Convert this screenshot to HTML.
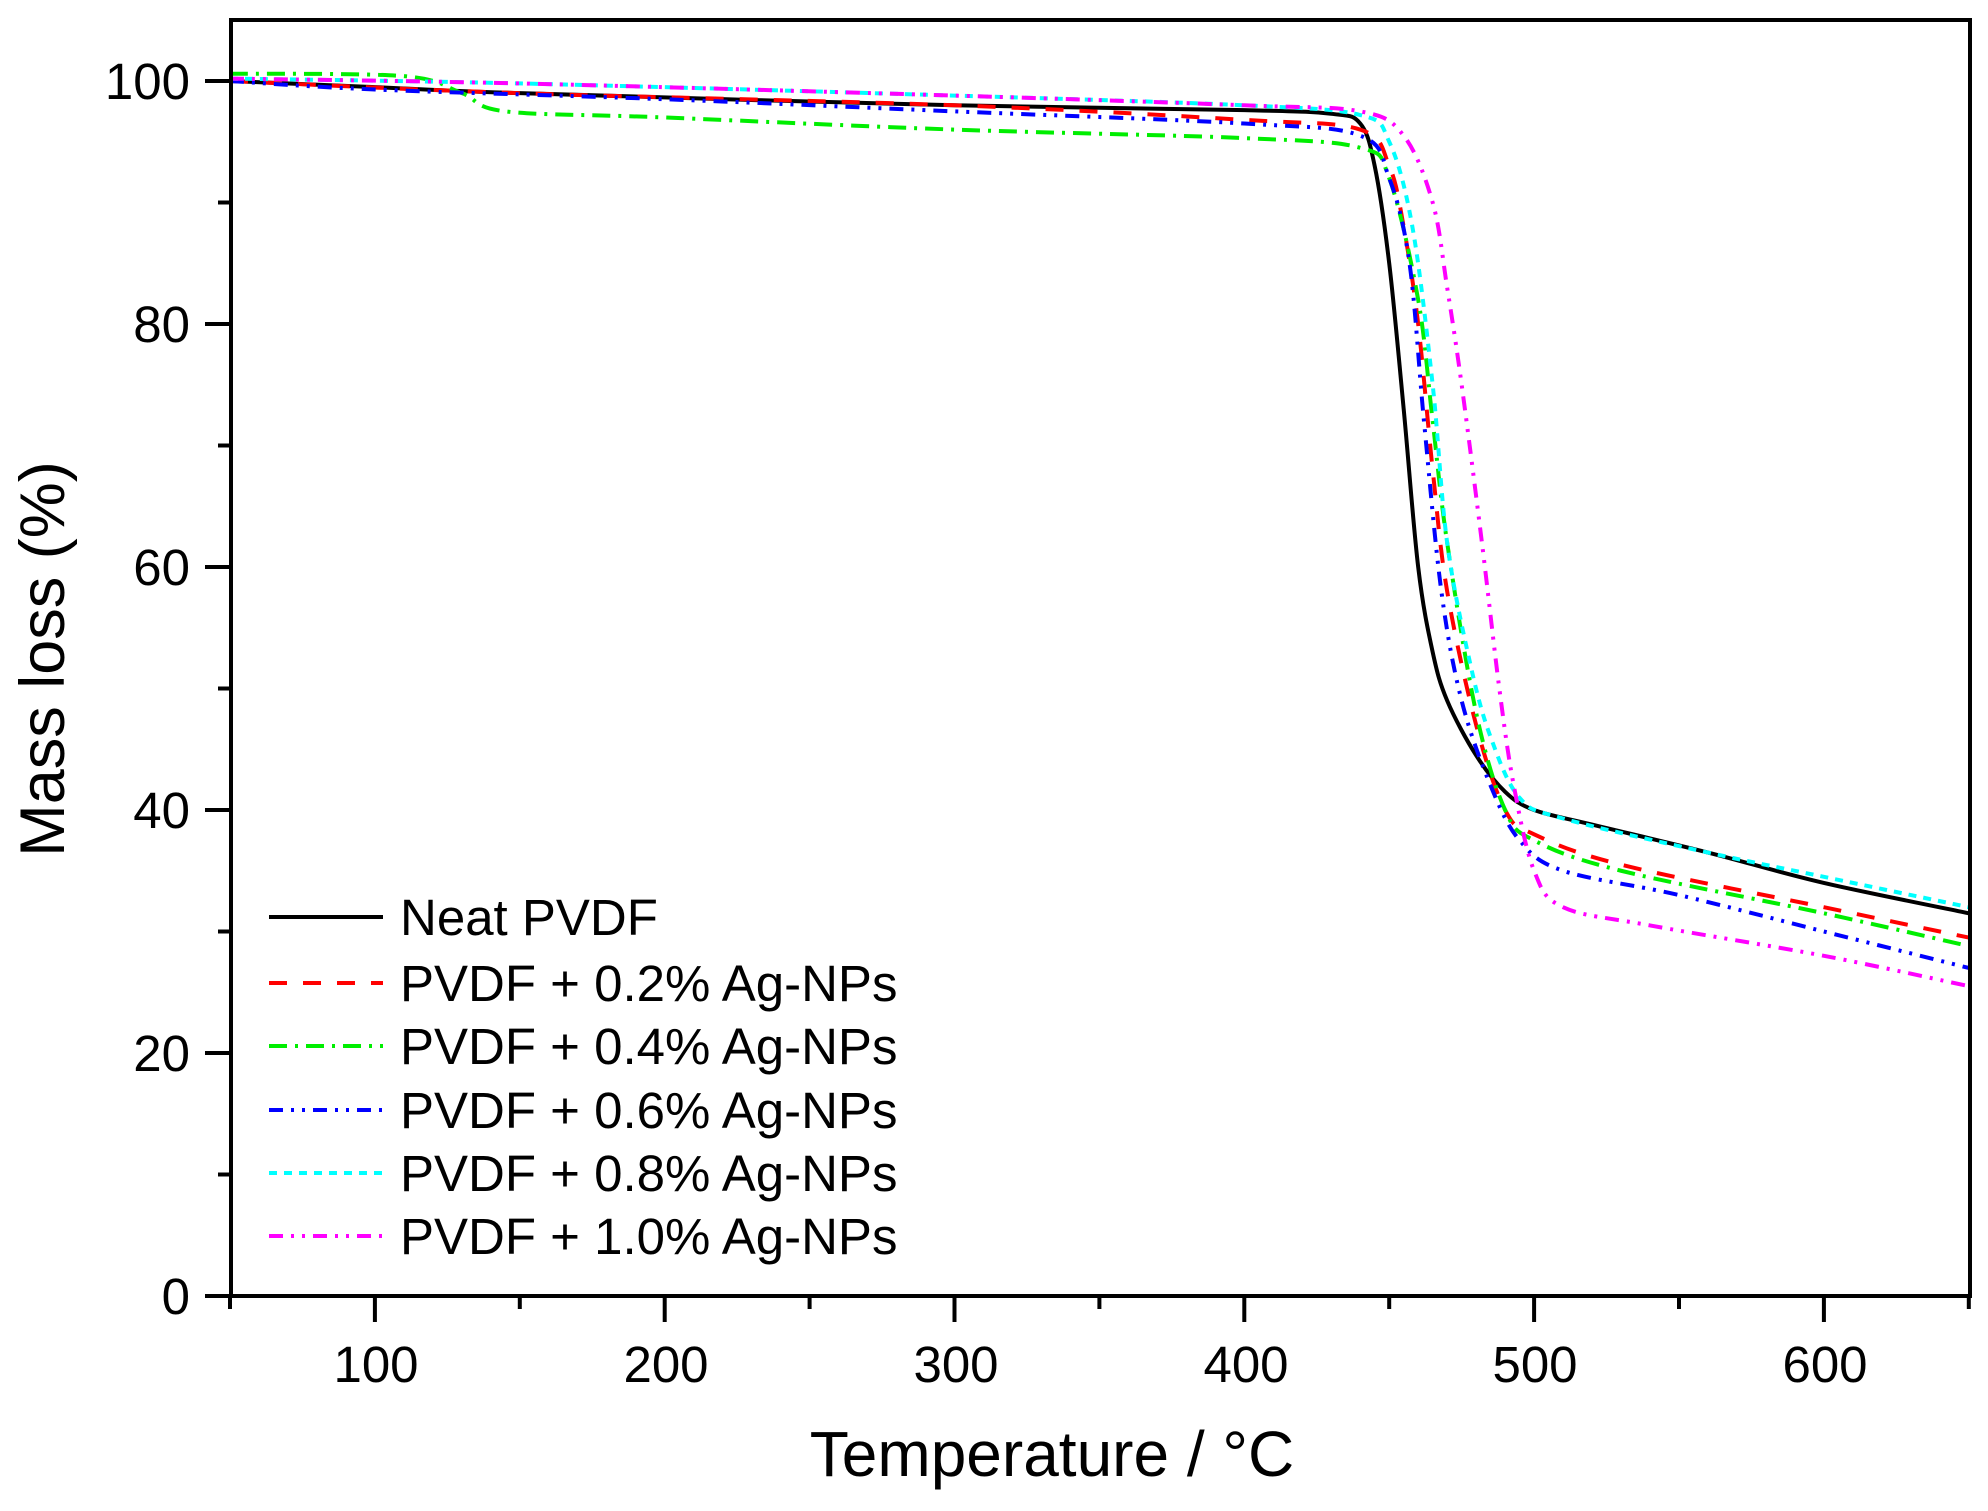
<!DOCTYPE html>
<html><head><meta charset="utf-8"><style>
html,body{margin:0;padding:0;background:#fff;}
svg{display:block;font-family:"Liberation Sans",Arial,sans-serif;}
</style></head><body>
<svg id="s" width="1988" height="1511" viewBox="0 0 1988 1511" xmlns="http://www.w3.org/2000/svg">
<rect width="1988" height="1511" fill="#fff"/>
<g id="curves" fill="none" stroke-width="4"></g>
<rect x="231" y="20" width="1739" height="1276" fill="none" stroke="#000" stroke-width="4"/>
<g id="ticks" stroke="#000" stroke-width="4"></g>
<g font-size="51" fill="#000" text-anchor="end" id="ylab">
<text x="190" y="99">100</text><text x="190" y="342">80</text><text x="190" y="585">60</text><text x="190" y="828">40</text><text x="190" y="1071">20</text><text x="190" y="1314">0</text>
</g>
<g font-size="51" fill="#000" text-anchor="middle">
<text x="376" y="1382">100</text><text x="666" y="1382">200</text><text x="956" y="1382">300</text><text x="1246" y="1382">400</text><text x="1535" y="1382">500</text><text x="1825" y="1382">600</text>
</g>
<text x="1052" y="1476" font-size="64" text-anchor="middle">Temperature / °C</text>
<text transform="translate(64,659) rotate(-90)" font-size="63" text-anchor="middle">Mass loss (%)</text>
<g font-size="51" fill="#000">
<text x="400" y="935">Neat PVDF</text>
<text x="400" y="1001">PVDF + 0.2% Ag-NPs</text>
<text x="400" y="1064">PVDF + 0.4% Ag-NPs</text>
<text x="400" y="1128">PVDF + 0.6% Ag-NPs</text>
<text x="400" y="1191">PVDF + 0.8% Ag-NPs</text>
<text x="400" y="1254">PVDF + 1.0% Ag-NPs</text>
</g>
<g stroke-width="4">
<line x1="269" y1="917" x2="383" y2="917" stroke="#000"/>
<line x1="269" y1="983" x2="383" y2="983" stroke="#f00" stroke-dasharray="18,16"/>
<line x1="269" y1="1046" x2="383" y2="1046" stroke="#0e0" stroke-dasharray="18,8,3,8"/>
<line x1="269" y1="1110" x2="383" y2="1110" stroke="#00f" stroke-dasharray="14,8,3,8,3,8"/>
<line x1="269" y1="1173" x2="383" y2="1173" stroke="#0ff" stroke-dasharray="8,7"/>
<line x1="269" y1="1236" x2="383" y2="1236" stroke="#f0f" stroke-dasharray="14,8,3,8,3,8"/>
</g>
</svg>
<script>
var NS="http://www.w3.org/2000/svg";
function el(p,tag,attrs){var e=document.createElementNS(NS,tag);for(var k in attrs)e.setAttribute(k,attrs[k]);p.appendChild(e);return e;}
var X=function(t){return 230+(t-50)*2.898},Y=function(m){return 1296-m*12.15};
var tk=document.getElementById('ticks');
for(var v=0;v<=100;v+=10){var y=Y(v);el(tk,'line',{x1:(v%20?218:205),y1:y,x2:231,y2:y});}
for(var t=50;t<=650;t+=50){var x=X(t);el(tk,'line',{x1:x,y1:1296,x2:x,y2:(t%100?1309:1322)});}
var S=[
['#000','',[[50,100],[100,99.5],[150,99],[300,98],[400,97.6],[430,97.3],[440,96.5],[445,93],[450,85],[455,73],[460,60],[465,53],[470,49],[480,44.5],[490,41.5],[500,40],[520,38.8],[560,36.5],[600,34],[650,31.5]]],
['#f00','18,16',[[50,100],[150,99],[300,98],[400,96.8],[440,96],[450,93],[455,88],[460,80],[465,68],[470,58],[480,47],[490,40],[500,38],[530,35.5],[600,32],[650,29.5]]],
['#0e0','18,8,3,8',[[50,100.6],[110,100.4],[130,99],[145,97.5],[200,97],[300,96],[400,95.3],[440,94.5],[450,92],[460,82],[465,72],[470,62],[480,48],[490,40],[500,37.5],[530,35],[600,31.5],[650,28.8]]],
['#00f','14,8,3,8,3,8',[[50,100],[100,99.3],[200,98.5],[300,97.5],[400,96.5],[440,95.5],[450,92],[457,85],[462,72],[468,58],[475,49],[485,42],[495,37.5],[510,35],[550,33],[600,30],[650,27]]],
['#0ff','8,7',[[50,100.2],[150,99.8],[300,98.8],[400,98],[440,97.2],[450,95],[458,88],[465,75],[470,62],[478,52],[485,46],[495,41],[510,39.3],[560,36.5],[600,34.5],[650,32]]],
['#f0f','14,8,3,8,3,8',[[50,100.2],[150,99.8],[300,98.8],[400,98],[440,97.5],[455,95.5],[465,90],[470,83],[475,75],[482,62],[488,50],[493,42],[500,35],[510,32],[540,30.5],[600,28],[650,25.5]]]
];
var cg=document.getElementById('curves');
S.forEach(function(s){var p=s[2].map(function(q){return [X(q[0]),Y(q[1])]});
var d='M'+p[0][0]+','+p[0][1];
for(var i=0;i<p.length-1;i++){var a=p[i-1]||p[i],b=p[i],e=p[i+1],f=p[i+2]||e;
d+=' C'+(b[0]+(e[0]-a[0])/6)+','+(b[1]+(e[1]-a[1])/6)+' '+(e[0]-(f[0]-b[0])/6)+','+(e[1]-(f[1]-b[1])/6)+' '+e[0]+','+e[1];}
var at={d:d,stroke:s[0]};if(s[1])at['stroke-dasharray']=s[1];el(cg,'path',at);});
</script>
</body></html>
